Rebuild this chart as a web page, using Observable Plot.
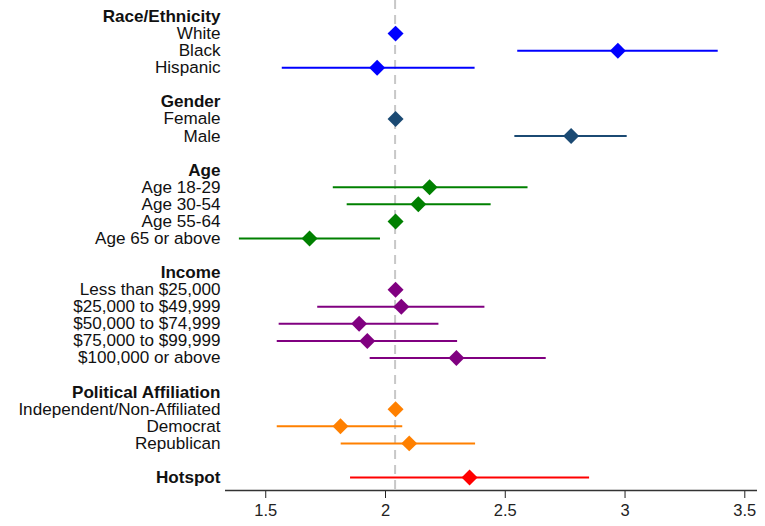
<!DOCTYPE html>
<html>
<head>
<meta charset="utf-8">
<script src="https://cdn.jsdelivr.net/npm/d3@7"></script>
<script src="https://cdn.jsdelivr.net/npm/@observablehq/plot@0.6"></script>
<style>
  html, body { margin: 0; padding: 0; background: #fff; }
  #chart { width: 765px; height: 526px; }
</style>
</head>
<body>
<div id="chart"></div>
<script>
const groups = ["Race/Ethnicity", "Gender", "Age", "Income", "Political Affiliation", "Hotspot"];
const groupColors = ["#0000ff", "#1b4a73", "#008000", "#800080", "#ff8000", "#ff0000"];

const categories = [
  "White", "Black", "Hispanic",
  "Female", "Male",
  "Age 18-29", "Age 30-54", "Age 55-64", "Age 65 or above",
  "Less than $25,000", "$25,000 to $49,999", "$50,000 to $74,999", "$75,000 to $99,999", "$100,000 or above",
  "Independent/Non-Affiliated", "Democrat", "Republican",
  "Hotspot"
];
const categoryGroup = [
  "Race/Ethnicity", "Race/Ethnicity", "Race/Ethnicity",
  "Gender", "Gender",
  "Age", "Age", "Age", "Age",
  "Income", "Income", "Income", "Income", "Income",
  "Political Affiliation", "Political Affiliation", "Political Affiliation",
  "Hotspot"
];
const estimates = [2.042, 2.970, 1.965, 2.042, 2.775, 2.184, 2.137, 2.042, 1.683, 2.042, 2.066, 1.890, 1.924, 2.296, 2.042, 1.812, 2.099, 2.351];
const lower     = [null, 2.552, 1.569, null, 2.540, 1.782, 1.840, null, 1.390, null, 1.717, 1.556, 1.548, 1.936, null, 1.548, 1.815, 1.854];
const upper     = [null, 3.389, 2.374, null, 3.009, 2.595, 2.441, null, 1.979, null, 2.415, 2.223, 2.301, 2.671, null, 2.072, 2.376, 2.852];
const referenceValue = 2.04;
const xTicks = [1.5, 2, 2.5, 3, 3.5];
const xDomain = [1.332, 3.553];

// Build row layout: header row, then items, then a blank row per group
const headerRows = [];
const itemRows = [];
let r = 0;
groups.forEach((g, gi) => {
  const headerRow = r;
  headerRows.push({label: g, row: headerRow});
  r++;
  categories.forEach((c, i) => {
    if (categoryGroup[i] !== g) return;
    const row = (c === g) ? headerRow : r++;
    itemRows.push({
      label: c, row, group: g, color: groupColors[gi],
      est: estimates[i], lo: lower[i], hi: upper[i], isHeader: c === g
    });
  });
  r++; // blank spacer
});
const lastRow = r - 2;
const yDomain = [-0.94, lastRow + 0.76];

const font = "Liberation Sans, Arial, Helvetica, sans-serif";

const chart = Plot.plot({
  width: 765,
  height: 526,
  marginLeft: 225,
  marginRight: 8,
  marginTop: 0,
  marginBottom: 36,
  style: {fontFamily: font, fontSize: "16.5px", color: "#222", background: "#fff"},
  x: {domain: xDomain, ticks: xTicks, tickFormat: d => String(d), label: null, tickSize: 8, tickPadding: 6},
  y: {domain: yDomain, reverse: true, axis: null},
  color: {type: "identity"},
  marks: [
    Plot.ruleX([referenceValue], {stroke: "#c8c8c8", strokeWidth: 2, strokeDasharray: "9,6"}),
    Plot.ruleY([yDomain[1]], {stroke: "#333", strokeWidth: 1.5}),
    Plot.ruleY(itemRows.filter(d => d.lo != null), {y: "row", x1: "lo", x2: "hi", stroke: "color", strokeWidth: 2}),
    Plot.dot(itemRows, {x: "est", y: "row", symbol: "diamond2", r: 7.2, fill: "color", stroke: "none"}),
    Plot.text(itemRows.filter(d => !d.isHeader), {y: "row", text: "label", frameAnchor: "left", textAnchor: "end", dx: -5, fill: "#111", fontSize: 17.1}),
    Plot.text(headerRows, {y: "row", text: "label", frameAnchor: "left", textAnchor: "end", dx: -5, fill: "#111", fontSize: 17.1, fontWeight: "bold"})
  ]
});
document.getElementById("chart").appendChild(chart);
</script>
</body>
</html>
